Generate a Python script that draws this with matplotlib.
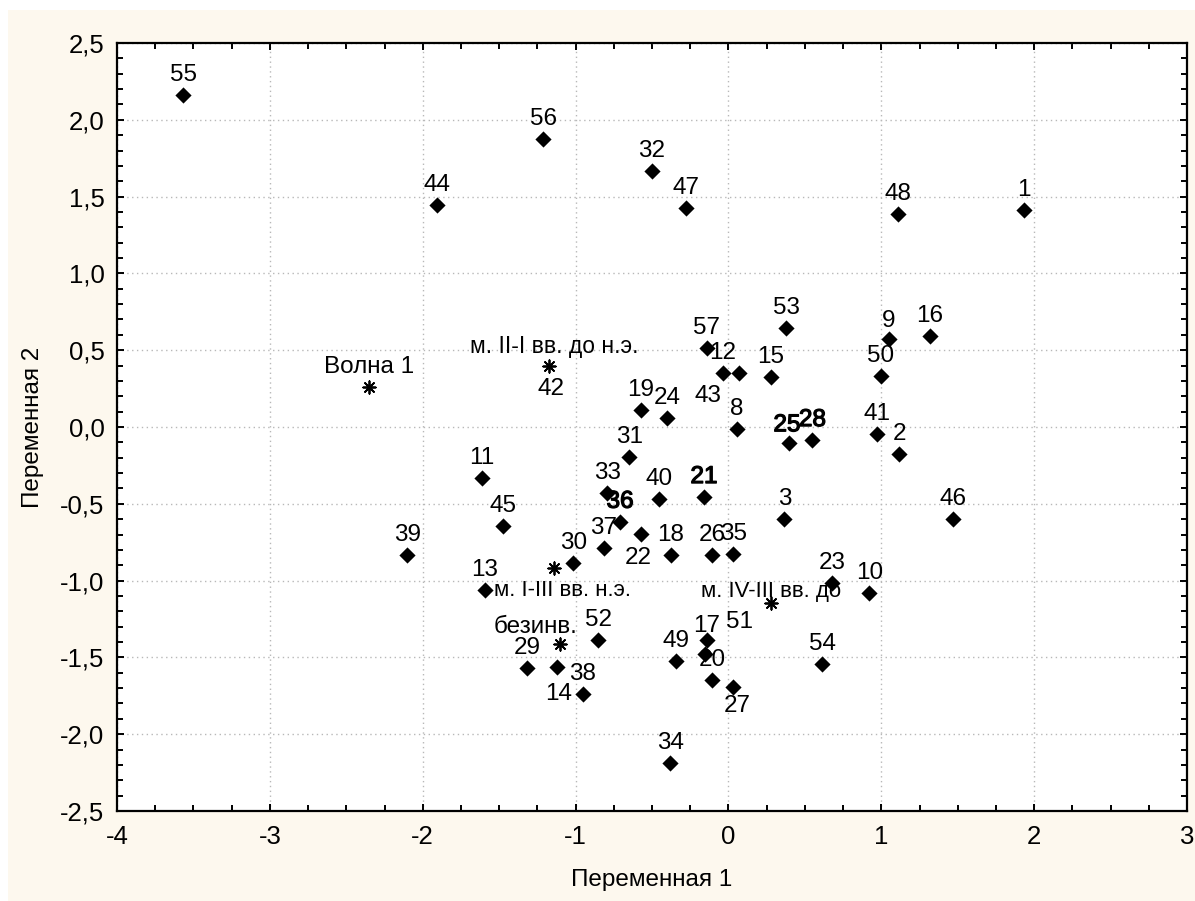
import matplotlib
matplotlib.use("Agg")
import matplotlib.pyplot as plt
from matplotlib.patches import Rectangle
from matplotlib.ticker import MultipleLocator, FixedLocator
import matplotlib.patheffects as pe

plt.rcParams['font.family'] = ['Liberation Sans', 'DejaVu Sans']

# ---- data ----
point_ids = [55, 56, 32, 47, 44, 48, 1, 53, 9, 16, 57, 12, 43, 15, 50, 19, 24, 8,
             25, 28, 41, 2, 31, 11, 33, 40, 21, 3, 46, 36, 45, 37, 22, 18, 26, 35,
             30, 13, 23, 10, 39, 17, 51, 20, 27, 49, 54, 52, 29, 14, 38, 34]
x_vals = [-3.568, -1.213, -0.502, -0.276, -1.905, 1.111, 1.934, 0.377, 1.050, 1.319,
          -0.142, -0.037, 0.067, 0.277, 0.996, -0.574, -0.400, 0.054,
          0.396, 0.549, 0.974, 1.118, -0.649, -1.614, -0.792, -0.452, -0.160, 0.366,
          1.471, -0.709, -1.473, -0.814, -0.574, -0.378, -0.107, 0.032,
          -1.015, -1.595, 0.680, 0.922, -2.101, -0.142, -0.153, -0.107, 0.032,
          -0.345, 0.614, -0.853, -1.316, -1.122, -0.953, -0.380]
y_vals = [2.161, 1.875, 1.669, 1.424, 1.445, 1.385, 1.413, 0.643, 0.573, 0.594,
          0.512, 0.350, 0.350, 0.327, 0.334, 0.111, 0.059, -0.011,
          -0.106, -0.085, -0.044, -0.178, -0.197, -0.330, -0.432, -0.467, -0.456, -0.599,
          -0.599, -0.617, -0.643, -0.786, -0.699, -0.835, -0.835, -0.827,
          -0.887, -1.061, -1.014, -1.083, -0.833, -1.387, -1.480, -1.647, -1.695,
          -1.523, -1.543, -1.387, -1.571, -1.560, -1.738, -2.186]

group_names = ["Волна 1", "м. II-I вв. до н.э.", "м. I-III вв. н.э.",
               "м. IV-III вв. до", "безинв."]
group_x = [-2.351, -1.172, -1.141, 0.278, -1.102]
group_y = [0.258, 0.399, -0.920, -1.148, -1.413]
group_extra_label = "42"   # case coinciding with the second centroid

x_ticks = [-4, -3, -2, -1, 0, 1, 2, 3]
x_tick_labels = ["-4", "-3", "-2", "-1", "0", "1", "2", "3"]
y_ticks = [-2.5, -2.0, -1.5, -1.0, -0.5, 0.0, 0.5, 1.0, 1.5, 2.0, 2.5]
y_tick_labels = ["-2,5", "-2,0", "-1,5", "-1,0", "-0,5", "0,0", "0,5", "1,0",
                 "1,5", "2,0", "2,5"]
x_title = "Переменная 1"
y_title = "Переменная 2"

# label placement (pixel offsets from the mark, +y up)
default_offset = (0, 20)
label_offsets = {43: (-31, -23), 22: (-2, -24), 51: (34, 32), 27: (4, -19),
                 14: (2, -27), 17: (0, 14), 9: (0, 18), 25: (-2, 18)}
heavy_labels = {25, 28, 21, 36}
group_offsets = [(0, 20), (5, 19), (8, -22), (0, 12), (-24, 17)]

# ---- figure ----
fig = plt.figure(figsize=(11.95, 9.01), dpi=100)
fig.patch.set_facecolor("white")
fig.patches.append(Rectangle((8 / 1195, 0), 1, 1 - 10 / 901, transform=fig.transFigure,
                             facecolor="#fdf8ee", edgecolor="none", zorder=-10))

ax = fig.add_axes([117 / 1195, 1 - 811 / 901, 1070 / 1195, 768 / 901])
ax.set_facecolor("white")
ax.set_xlim(-4, 3)
ax.set_ylim(-2.5, 2.5)

ax.scatter(x_vals, y_vals, marker="D", s=68, color="black", zorder=3, linewidths=0)
ax.scatter(group_x, group_y, marker=(8, 2, 0), s=80, color="black", zorder=4,
           linewidths=1.3)

fs = 17.5
for pid, px, py in zip(point_ids, x_vals, y_vals):
    off = label_offsets.get(pid, default_offset)
    t = ax.annotate(str(pid), (px, py), xytext=off, textcoords="offset pixels",
                    ha="center", va="center", fontsize=fs, color="black", zorder=5)
    if pid in heavy_labels:
        t.set_path_effects([pe.withStroke(linewidth=0.9, foreground="black")])

group_fs = [17.5, 16.5, 16.0, 16.0, 17.5]
for i, (name, gx, gy) in enumerate(zip(group_names, group_x, group_y)):
    ax.annotate(name, (gx, gy), xytext=group_offsets[i], textcoords="offset pixels",
                ha="center", va="center", fontsize=group_fs[i], color="black", zorder=5)
ax.annotate(group_extra_label, (group_x[1], group_y[1]), xytext=(2, -23),
            textcoords="offset pixels", ha="center", va="center", fontsize=fs,
            color="black", zorder=5)

# ---- axes styling ----
ax.xaxis.set_major_locator(FixedLocator(x_ticks))
ax.yaxis.set_major_locator(FixedLocator(y_ticks))
ax.set_xticklabels(x_tick_labels)
ax.set_yticklabels(y_tick_labels)
ax.xaxis.set_minor_locator(MultipleLocator(0.25))
ax.yaxis.set_minor_locator(MultipleLocator(0.1))
ax.tick_params(which="both", direction="in", top=True, right=True, width=1.4,
               colors="black", labelsize=18.5)
ax.tick_params(which="major", length=5)
ax.tick_params(which="minor", length=4)
ax.tick_params(axis="x", which="major", pad=10)
ax.tick_params(axis="y", which="major", pad=9)
for sp in ax.spines.values():
    sp.set_linewidth(1.6)
    sp.set_color("black")

ax.grid(True, which="major", color="#b8b8b8", linestyle=(0, (1, 2.5)), linewidth=1.0)
ax.set_axisbelow(True)

ax.set_xlabel(x_title, fontsize=17.5)
ax.set_ylabel(y_title, fontsize=17.5)
ax.xaxis.set_label_coords(0.5, (811 - 880) / 768)
ax.xaxis.label.set_verticalalignment("center")
ax.yaxis.set_label_coords((33 - 117) / 1070, 0.5)
ax.yaxis.label.set_verticalalignment("center")

fig.savefig("out.png", dpi=100, facecolor=fig.get_facecolor())
